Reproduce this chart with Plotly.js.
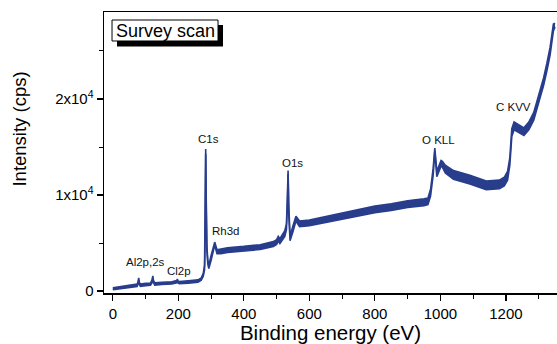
<!DOCTYPE html>
<html>
<head>
<meta charset="utf-8">
<script src="https://cdn.plot.ly/plotly-3.0.1.min.js"></script>
<style>html,body{margin:0;padding:0;background:#fff;}#chart{width:557px;height:344px;}</style>
</head>
<body>
<div id="chart"></div>
<script>
// Binding energy (eV)
var energy = [0,20,40,60,74,77,79,81,84,100,115,120,122,124,128,150,180,195,197,199,203,230,260,270,276,280,282,283.5,285,287,290,293,300,305,311,318,330,350,400,450,490,500,505,510,525,530,533,535,537,539,541,550,559,570,600,650,700,750,800,850,900,950,962,970,978,983,986,989,995,1002,1006,1015,1040,1090,1140,1180,1195,1205,1212,1218,1225,1240,1255,1270,1285,1300,1315,1325,1335,1345,1350];
// lower edge of the noisy signal band (cps)
var intensityLow = [150,230,330,420,480,700,1150,700,500,560,600,900,1400,900,620,680,730,850,1050,850,760,830,930,1130,1550,2200,6000,14300,8000,4300,2800,2350,3200,4000,4800,3900,3900,4020,4150,4330,4650,4850,5200,4950,5700,6400,9000,12200,8000,6500,5250,6200,7300,6700,6800,7150,7480,7780,8150,8400,8700,8900,9000,9900,12100,14600,13000,11900,12400,13000,12900,12300,11650,11150,10550,10650,10950,11550,13100,16100,16800,16500,16200,16800,17800,19600,21400,22900,24600,27100,27500];
// upper edge of the noisy signal band (cps)
var intensityHigh = [350,470,570,680,720,1000,1380,900,740,800,840,1200,1580,1100,860,920,970,1100,1250,1050,1000,1070,1170,1370,1850,2700,7000,14800,9000,4700,3200,2700,3700,4400,5100,4300,4400,4520,4650,4830,5150,5350,5700,5450,6300,7000,10000,12550,9000,7200,5750,6800,7800,7300,7400,7750,8120,8420,8850,9100,9400,9600,9700,10600,12800,14900,13800,12500,13000,13600,13500,13100,12550,12050,11450,11550,11850,12450,13900,16900,17600,17300,17000,17600,18600,20400,22200,23700,25400,27800,27900];

// peak labels
var peakLabels = ["Al2p,2s","Cl2p","C1s","Rh3d","O1s","O KLL","C KVV"];
var peakX = [101,203,292,344,548,994,1224];
var peakY = [3020,2080,15830,6250,13330,15730,19170];

var yTickVals = [0,10000,20000];
var yTickText = ["0","1x10<sup>4</sup>","2x10<sup>4</sup>"];

var col = "#283d8c";
var traces = [
  {x: energy, y: intensityLow, type: "scatter", mode: "lines", line: {color: col, width: 1.6}, hoverinfo: "skip", showlegend: false},
  {x: energy, y: intensityHigh, type: "scatter", mode: "lines", line: {color: col, width: 1.6}, fill: "tonexty", fillcolor: col, showlegend: false}
];

var annotations = peakLabels.map(function(t, i){
  return {x: peakX[i], y: peakY[i], xref: "x", yref: "y", text: t, showarrow: false,
          xanchor: "center", yanchor: "middle",
          font: {family: "Liberation Sans, Arial, sans-serif", size: 11.5, color: "#111"}};
});
annotations.push({x: 0.1347, y: 0.934, xref: "paper", yref: "paper", text: "Survey scan", showarrow: false,
  xanchor: "center", yanchor: "middle",
  font: {family: "Liberation Sans, Arial, sans-serif", size: 18, color: "#000"}});
annotations.push({x: -0.1887, y: 0.5836, xref: "paper", yref: "paper", text: "Intensity (cps)", showarrow: false,
  xanchor: "center", yanchor: "middle", textangle: -90,
  font: {family: "Liberation Sans, Arial, sans-serif", size: 18.5, color: "#000"}});

var layout = {
  width: 557, height: 344,
  margin: {l: 104, r: 0, t: 12, b: 51},
  paper_bgcolor: "#fff", plot_bgcolor: "#fff",
  font: {family: "Liberation Sans, Arial, sans-serif", color: "#000"},
  xaxis: {
    range: [-27, 1356], dtick: 200, tick0: 0,
    showgrid: false, zeroline: false,
    showline: true, linecolor: "#000", linewidth: 1.5, mirror: true,
    ticks: "outside", ticklen: 6, tickwidth: 1.2, tickcolor: "#000",
    minor: {dtick: 100, ticks: "outside", ticklen: 4, tickwidth: 1, tickcolor: "#000"},
    tickfont: {size: 15},
    title: {text: "Binding energy (eV)", font: {size: 20.5}, standoff: 5}
  },
  yaxis: {
    range: [-200, 29060], tickvals: yTickVals, ticktext: yTickText,
    showgrid: false, zeroline: false,
    showline: true, linecolor: "#000", linewidth: 1.5,
    ticks: "outside", ticklen: 6, tickwidth: 1.2, tickcolor: "#000",
    minor: {dtick: 5000, ticks: "outside", ticklen: 4, tickwidth: 1, tickcolor: "#000"},
    tickfont: {size: 15}
  },
  shapes: [
    {type: "rect", xref: "paper", yref: "paper", x0: 0.0287, x1: 0.2627, y0: 0.8772, y1: 0.9537, fillcolor: "#000", line: {width: 0}},
    {type: "rect", xref: "paper", yref: "paper", x0: 0.0177, x1: 0.2517, y0: 0.8968, y1: 0.9715, fillcolor: "#fff", line: {color: "#000", width: 1}}
  ],
  annotations: annotations
};

Plotly.newPlot("chart", traces, layout, {displayModeBar: false, staticPlot: true});
</script>
</body>
</html>
